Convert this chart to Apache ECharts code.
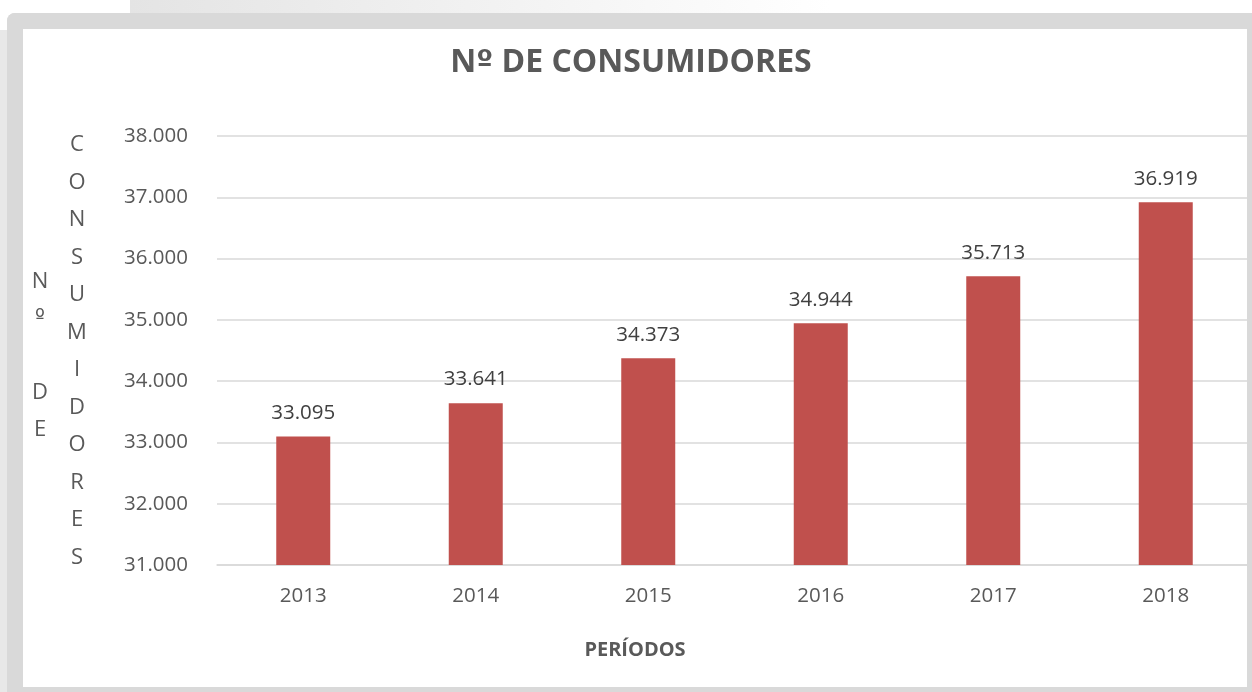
<!DOCTYPE html>
<html>
<head>
<meta charset="utf-8">
<script src="https://cdn.jsdelivr.net/npm/echarts@6/dist/echarts.min.js"></script>
<style>
html,body{margin:0;padding:0;background:#ffffff;}
#chart{width:1252px;height:692px;}
</style>
</head>
<body>
<div id="chart"></div>
<script>
const categories = ['2013', '2014', '2015', '2016', '2017', '2018'];
const consumers = [33095, 33641, 34373, 34944, 35713, 36919];
const yTicks = [31000, 32000, 33000, 34000, 35000, 36000, 37000, 38000];
const titleParts = ['N', 'º', ' DE CONSUMIDORES'];
const xTitle = 'PERÍODOS';
const yTitleCol1 = ['N', 'º', ' ', 'D', 'E'];
const yTitleCol2 = ['C', 'O', 'N', 'S', 'U', 'M', 'I', 'D', 'O', 'R', 'E', 'S'];

function fmt(v) {
  return String(v).replace(/\B(?=(\d{3})+(?!\d))/g, '.');
}

const FONT = '"Open Sans", "DejaVu Sans", sans-serif';
const ORD = '"DejaVu Sans", sans-serif';
const chart = echarts.init(document.getElementById('chart'), null, {renderer: 'canvas'});

const col1Text = yTitleCol1.map(ch => (ch === 'º' ? '{o|' : '{a|') + ch + '}').join('\n');

chart.setOption({
  animation: false,
  backgroundColor: '#ffffff',
  textStyle: {fontFamily: FONT},
  grid: {left: 217, right: -4, top: 136, bottom: 127, containLabel: false},
  xAxis: {
    type: 'category',
    data: categories,
    axisLine: {show: true, lineStyle: {color: '#d9d9d9', width: 1.5}},
    axisTick: {show: false},
    axisLabel: {fontFamily: FONT, fontSize: 20.5, color: '#595959', margin: 21}
  },
  yAxis: {
    type: 'value',
    min: yTicks[0],
    max: yTicks[yTicks.length - 1],
    interval: 1000,
    axisLine: {show: false},
    axisTick: {show: false},
    axisLabel: {fontFamily: FONT, fontSize: 20.5, color: '#595959', margin: 29, formatter: v => fmt(v)},
    splitLine: {show: true, lineStyle: {color: '#d9d9d9', width: 1.5}}
  },
  series: [{
    type: 'bar',
    data: consumers,
    barWidth: '31.3%',
    itemStyle: {color: '#c0504d'},
    label: {
      show: true,
      position: 'top',
      distance: 13,
      fontFamily: FONT,
      fontSize: 20.5,
      color: '#404040',
      formatter: p => fmt(p.value)
    }
  }],
  graphic: [
    // background decoration outside frame
    {type: 'rect', z: 100, shape: {x: 130, y: 0, width: 700, height: 13},
     style: {fill: new echarts.graphic.LinearGradient(0, 0, 1, 0, [{offset: 0, color: '#e4e4e4'}, {offset: 1, color: '#ffffff'}])}},
    {type: 'rect', z: 100, shape: {x: 0, y: 30, width: 7, height: 662}, style: {fill: '#e8e8e8'}},
    // gray frame
    {type: 'rect', z: 101, shape: {x: 7, y: 13, width: 1260, height: 16, r: [8, 0, 0, 0]}, style: {fill: '#d9d9d9'}},
    {type: 'rect', z: 101, shape: {x: 7, y: 13, width: 16, height: 700, r: [8, 0, 0, 0]}, style: {fill: '#d9d9d9'}},
    {type: 'rect', z: 101, shape: {x: 1247, y: 13, width: 10, height: 700}, style: {fill: '#d9d9d9'}},
    {type: 'rect', z: 101, shape: {x: 7, y: 687, width: 1260, height: 10}, style: {fill: '#d9d9d9'}},
    // title
    {type: 'text', z: 102, x: 631, y: 63,
     style: {
       text: '{a|' + titleParts[0] + '}{o|' + titleParts[1] + '}{a|' + titleParts[2] + '}',
       align: 'center', verticalAlign: 'middle', fill: '#595959',
       rich: {
         a: {fontFamily: FONT, fontSize: 32, fontWeight: 'bold', fill: '#595959', color: '#595959'},
         o: {fontFamily: ORD, fontSize: 30, fontWeight: 'bold', fill: '#595959', color: '#595959'}
       }
     }},
    // x axis title
    {type: 'text', z: 102, x: 635, y: 650,
     style: {text: xTitle, fontFamily: FONT, fontSize: 20, fontWeight: 'bold', fill: '#595959', align: 'center', verticalAlign: 'middle'}},
    // y axis title (stacked letters)
    {type: 'text', z: 102, x: 40, y: 356,
     style: {
       text: col1Text, align: 'center', verticalAlign: 'middle', fill: '#595959',
       rich: {
         a: {fontFamily: FONT, fontSize: 22, lineHeight: 37, fill: '#595959', color: '#595959', align: 'center'},
         o: {fontFamily: ORD, fontSize: 21, lineHeight: 37, fill: '#595959', color: '#595959', align: 'center'}
       }
     }},
    {type: 'text', z: 102, x: 77, y: 351,
     style: {text: yTitleCol2.join('\n'), fontFamily: FONT, fontSize: 22, fill: '#595959', align: 'center', verticalAlign: 'middle', lineHeight: 37.5}}
  ]
});
</script>
</body>
</html>
